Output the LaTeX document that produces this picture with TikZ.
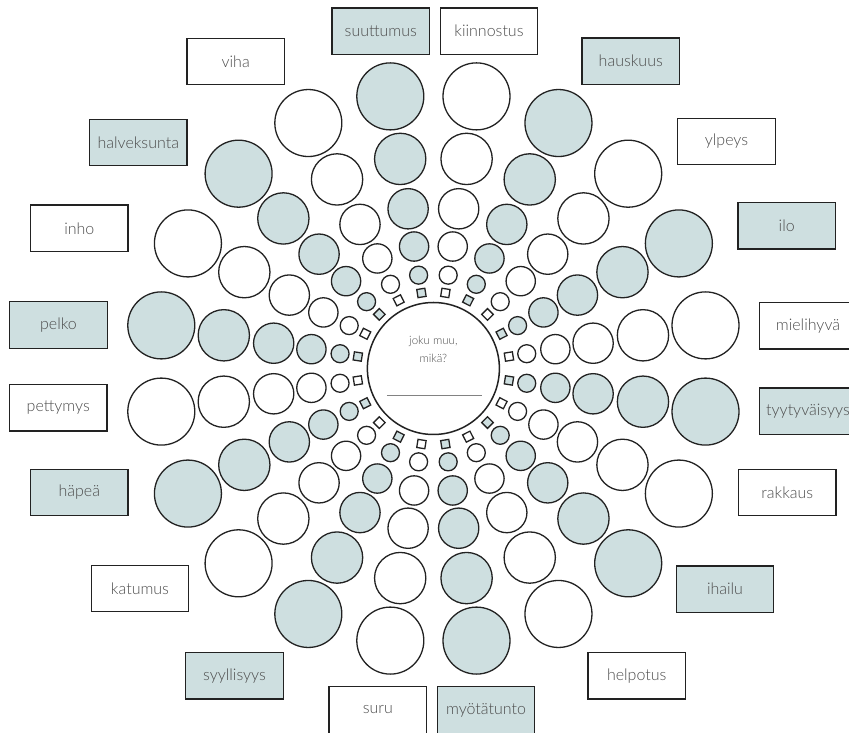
\documentclass[tikz,border=0pt]{standalone}
\usepackage{fontspec}
\IfFontExistsTF{Lato Light}{\setmainfont{Lato Light}}{\setmainfont{Lato}}
\usepackage{xcolor}
\usetikzlibrary{positioning}
\definecolor{WheelBlue}{HTML}{CEDFE0}
\definecolor{WheelLine}{HTML}{222222}
\definecolor{LabelText}{HTML}{4D4D4D}
\tikzstyle{EmotionLabel} =[draw=WheelLine,line width=1.4pt,minimum width=97.5pt,minimum height=46.5pt,inner sep=0pt,text=LabelText,font=\fontsize{16}{19}\selectfont]
\tikzstyle{BlueLabel} =[EmotionLabel,fill=WheelBlue]
\tikzstyle{WhiteLabel} =[EmotionLabel,fill=white]
\tikzstyle{IntensityCircle} =[draw=WheelLine,circle,line width=1.3pt,inner sep=0pt]
\tikzstyle{IntensitySquare} =[draw=WheelLine,rectangle,line width=1.3pt,minimum size=8.2pt,inner sep=0pt]

\begin{document}
\begin{tikzpicture}[x=1pt,y=1pt]
    \useasboundingbox (-433.4,-364.5) rectangle (415.6,368.5);

    % middle: free answer
    \node[draw=WheelLine,circle,line width=1.5pt,minimum size=132pt,inner sep=0pt,fill=white](Centre){};
    \node[text=LabelText,align=center,font=\fontsize{11.5}{18}\selectfont](Centre-Text) at (0,19.5){joku muu,\\mikä?};
    \coordinate (Answer-Start) at (-46.4,-27.2);
    \coordinate (Answer-End) at (48.6,-27.2);
    \draw[LabelText!70,line width=0.8pt] (Answer-Start) -- (Answer-End);

    % spokes: square, then five circles growing outwards
    \foreach \k in {0,...,19}{
        \pgfmathsetmacro{\a}{9+18*\k}
        \ifodd\k \def\spokefill{WheelBlue}\else\def\spokefill{white}\fi
        \node[IntensitySquare,fill=\spokefill,rotate=\a](Square-\k) at (\a:76.5){};
        \foreach \j/\r/\d in {1/94.5/18,2/123.5/29.3,3/161.7/40.3,4/212.2/51.3,5/275.5/67}
            \node[IntensityCircle,fill=\spokefill,minimum size=\d pt](Circle-\k-\j) at (\a:\r){};
    }

    % labels
    \node[BlueLabel](Suuttumus) at (-52.6,337.3){suuttumus};
    \node[WhiteLabel,right=9.3pt of Suuttumus](Kiinnostus){kiinnostus};
    \node[BlueLabel](Hauskuus) at (197.4,307.3){hauskuus};
    \node[WhiteLabel](Ylpeys) at (293.1,227){ylpeys};
    \node[BlueLabel](Ilo) at (353.3,142.7){ilo};
    \node[WhiteLabel](Mielihyva) at (374.6,42.7){mielihyvä};
    \node[BlueLabel](Tyytyvaisyys) at (374.6,-42.8){tyytyväisyys};
    \node[WhiteLabel](Rakkaus) at (353.9,-124){rakkaus};
    \node[BlueLabel](Ihailu) at (291.6,-220.7){ihailu};
    \node[WhiteLabel](Helpotus) at (203.3,-307.3){helpotus};
    \node[WhiteLabel](Suru) at (-55.6,-341.5){suru};
    \node[BlueLabel,right=9.3pt of Suru](Myotatunto){myötätunto};
    \node[BlueLabel](Syyllisyys) at (-198.9,-307.3){syyllisyys};
    \node[WhiteLabel](Katumus) at (-293.4,-220){katumus};
    \node[BlueLabel](Hapea) at (-354.1,-124){häpeä};
    \node[WhiteLabel](Pettymys) at (-375.1,-39.2){pettymys};
    \node[BlueLabel](Pelko) at (-374.9,43.5){pelko};
    \node[WhiteLabel](Inho) at (-354.1,140.2){inho};
    \node[BlueLabel](Halveksunta) at (-295.1,226){halveksunta};
    \node[WhiteLabel](Viha) at (-197.7,307){viha};
\end{tikzpicture}
\end{document}
